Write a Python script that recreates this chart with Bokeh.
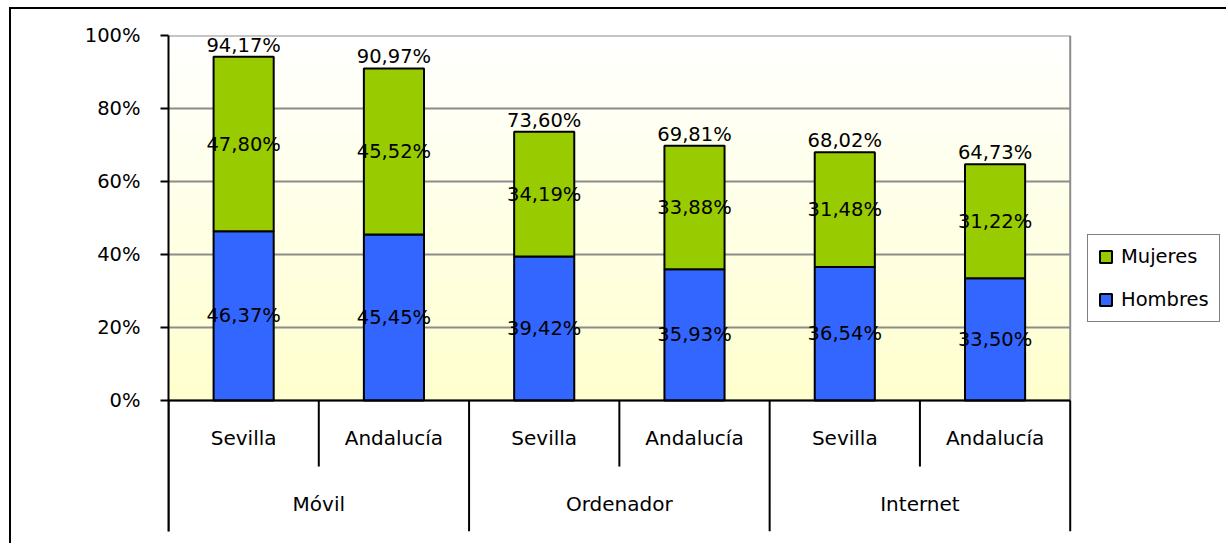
from bokeh.plotting import figure
from bokeh.models import FactorRange, Range1d, FixedTicker, Legend, LegendItem, ColumnDataSource
from bokeh.core.properties import value
from bokeh.embed import file_html
from bokeh.resources import INLINE
import numpy as np

# ---- data ----
groups = ["Móvil", "Ordenador", "Internet"]
places = ["Sevilla", "Andalucía"]
hombres = [46.37, 45.45, 39.42, 35.93, 36.54, 33.50]
mujeres = [47.80, 45.52, 34.19, 33.88, 31.48, 31.22]
totales = [94.17, 90.97, 73.60, 69.81, 68.02, 64.73]
y_ticks = [0, 20, 40, 60, 80, 100]
y_tick_labels = ["0%", "20%", "40%", "60%", "80%", "100%"]
series_names = ["Hombres", "Mujeres"]
series_colors = ["#3366FF", "#99CC00"]

FONT = "DejaVu Sans"
FS = "19.5px"
FS_CAT = "20px"

factors = [(g, pl) for g in groups for pl in places]
# an empty slot at the right end of the category range holds the legend
legend_slot = (" ", " ")


def pct(v):
    return f"{v:.2f}".replace(".", ",") + "%"


Y_MIN = -35.9  # extra room below 0 for the two-level category labels

x_range = FactorRange(*(factors + [legend_slot]), group_padding=0, subgroup_padding=0,
                      factor_padding=0, range_padding=0)
p = figure(width=1217, height=536, x_range=x_range, y_range=Range1d(Y_MIN, 100),
           output_backend="svg", toolbar_location=None, x_axis_location=None,
           min_border_left=157, min_border_right=8, min_border_top=26,
           min_border_bottom=14, outline_line_color=None,
           background_fill_color="white", border_fill_color="white",
           styles={"border-top": "2px solid black", "border-left": "2px solid black",
                   "margin-left": "9px", "margin-top": "7px"})

first = factors[0]
last = factors[-1]
x_lo = (first[0], first[1], -0.5)
x_hi = (last[0], last[1], 0.5)

# background gradient of the plot area (white at top -> pale yellow at bottom)
edges = np.linspace(0, 100, 61)
top_c = np.array([255, 255, 255])
bot_c = np.array([255, 255, 204])
band_cols = []
for i in range(len(edges) - 1):
    t = 1 - (edges[i] + edges[i + 1]) / 200.0
    c = (top_c + (bot_c - top_c) * t).round().astype(int)
    band_cols.append("#%02x%02x%02x" % tuple(c))
n = len(edges) - 1
bg = ColumnDataSource(dict(left=[x_lo] * n, right=[x_hi] * n,
                           bottom=list(edges[:-1]), top=list(edges[1:]), color=band_cols))
p.quad(left="left", right="right", bottom="bottom", top="top", color="color",
       source=bg, level="image", line_color=None)

# horizontal gridlines limited to the plot area
p.xgrid.visible = False
p.ygrid.visible = False
grid_src = ColumnDataSource(dict(x0=[x_lo] * len(y_ticks), x1=[x_hi] * len(y_ticks),
                                 y=y_ticks))
p.segment(x0="x0", x1="x1", y0="y", y1="y", source=grid_src,
          line_color="#8C8C8C", line_width=2)
# plot-area right border
p.segment(x0=[x_hi], x1=[x_hi], y0=[0], y1=[100], line_color="#8C8C8C", line_width=2)

# y axis
yax = p.yaxis[0]
yax.ticker = FixedTicker(ticks=y_ticks)
yax.major_label_overrides = {t: l for t, l in zip(y_ticks, y_tick_labels)}
yax.major_label_text_font = FONT
yax.major_label_text_font_size = FS
yax.major_label_text_color = "black"
yax.major_tick_out = 8
yax.major_tick_in = 0
yax.minor_tick_out = 0
yax.minor_tick_in = 0
yax.major_tick_line_width = 2
yax.axis_line_width = 2
yax.axis_line_color = "black"
yax.major_tick_line_color = "black"
yax.major_label_standoff = 20

# stacked bars
h = np.array(hombres)
m = np.array(mujeres)
src = ColumnDataSource(dict(x=factors, h0=np.zeros_like(h), h1=h, m0=h, m1=h + m,
                            hy=h / 2, my=h + m / 2,
                            ht=[pct(v) for v in hombres],
                            mt=[pct(v) for v in mujeres],
                            tt=[pct(v) for v in totales],
                            ty=totales))
r_h = p.vbar(x="x", bottom="h0", top="h1", width=0.4, source=src,
             fill_color=series_colors[0], line_color="black", line_width=2)
r_m = p.vbar(x="x", bottom="m0", top="m1", width=0.4, source=src,
             fill_color=series_colors[1], line_color="black", line_width=2)

txt = dict(text_font=value(FONT), text_font_size=FS, text_color="black",
           text_align="center")
p.text(x="x", y="hy", text="ht", source=src, text_baseline="middle", **txt)
p.text(x="x", y="my", text="mt", source=src, text_baseline="middle", **txt)
p.text(x="x", y="ty", text="tt", source=src, text_baseline="bottom",
       y_offset=0, **txt)

# x axis line
p.segment(x0=[x_lo], x1=[x_hi], y0=[0], y1=[0], line_color="black", line_width=2)

# category separators
sub_sep = [(g, places[0], 0.5) for g in groups]
p.segment(x0=sub_sep, x1=sub_sep, y0=[0] * len(sub_sep), y1=[-18.1] * len(sub_sep),
          line_color="black", line_width=2)
grp_sep = [(g, places[0], -0.5) for g in groups] + [x_hi]
p.segment(x0=grp_sep, x1=grp_sep, y0=[0] * len(grp_sep), y1=[Y_MIN] * len(grp_sep),
          line_color="black", line_width=2)

# category labels
cat = dict(txt, text_font_size=FS_CAT)
lab_src = ColumnDataSource(dict(x=factors, y=[-10.4] * len(factors),
                                t=[f[1] for f in factors]))
p.text(x="x", y="y", text="t", source=lab_src, text_baseline="middle", **cat)
grp_src = ColumnDataSource(dict(x=groups, y=[-28.5] * len(groups), t=groups))
p.text(x="x", y="y", text="t", source=grp_src, text_baseline="middle", **cat)

# legend
legend = Legend(items=[LegendItem(label=series_names[1], renderers=[r_m]),
                       LegendItem(label=series_names[0], renderers=[r_h])],
                location=(919, 209), orientation="vertical",
                glyph_width=15, glyph_height=15, label_height=22, spacing=20,
                padding=10, margin=0, label_standoff=8,
                label_text_font=FONT, label_text_font_size=FS,
                label_text_color="black",
                border_line_color="black", border_line_width=1,
                background_fill_color="white", background_fill_alpha=1)
p.add_layout(legend, "center")

open("out.html", "w").write(file_html(p, INLINE))
